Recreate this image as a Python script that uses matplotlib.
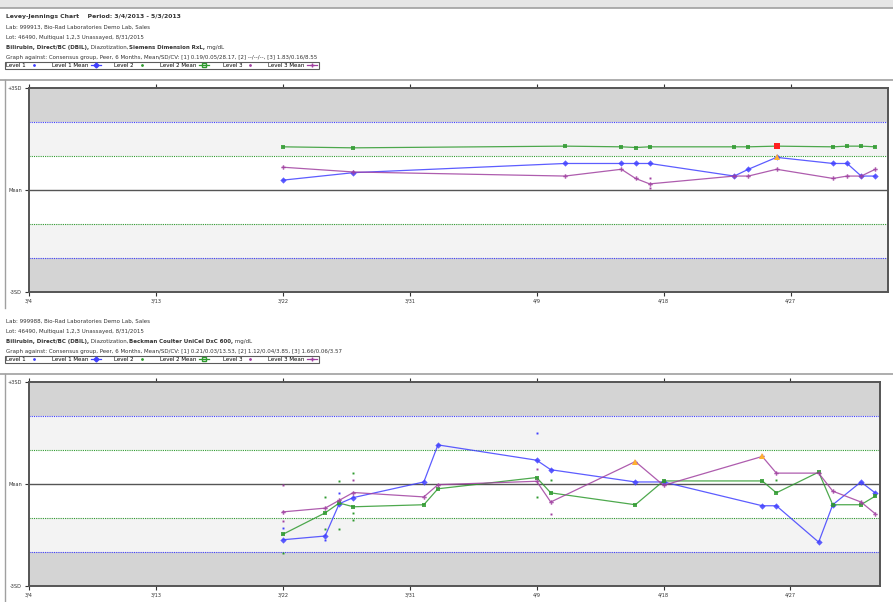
import matplotlib
matplotlib.use("Agg")
import matplotlib.pyplot as plt
from matplotlib.lines import Line2D
from matplotlib import font_manager

# days counted from 3/4/2013
tick_days = [0, 9, 18, 27, 36, 45, 54]
tick_labels = ['3/4', '3/13', '3/22', '3/31', '4/9', '4/18', '4/27']

# chart 1 (Siemens Dimension RxL), values in SD units
top_days = [18, 23, 38, 42, 43, 44, 50, 51, 53, 57, 58, 59, 60]
top_l1 = [0.29, 0.51, 0.78, 0.78, 0.78, 0.78, 0.41, 0.61, 0.96, 0.78, 0.78, 0.41, 0.41]
top_l2 = [1.27, 1.24, 1.29, 1.27, 1.25, 1.27, 1.27, 1.27, 1.29, 1.27, 1.29, 1.29, 1.27]
top_l3 = [0.67, 0.53, 0.41, 0.61, 0.34, 0.18, 0.41, 0.41, 0.61, 0.34, 0.41, 0.41, 0.61]
top_rep3_days = [44, 44]
top_rep3 = [0.34, 0.05]
top_warn = {'l1': [8], 'l2': [], 'l3': []}
top_rej = {'l1': [], 'l2': [8], 'l3': []}

# chart 2 (Beckman Coulter UniCel DxC 600)
bot_days = [18, 21, 22, 23, 28, 29, 36, 37, 43, 45, 52, 53, 56, 57, 59, 60]
bot_l1 = [-1.64, -1.53, -0.58, -0.40, 0.06, 1.15, 0.70, 0.42, 0.06, 0.06, -0.64, -0.64, -1.71, -0.61, 0.06, -0.26]
bot_l2 = [-1.48, -0.85, -0.56, -0.67, -0.61, -0.14, 0.19, -0.26, -0.61, 0.09, 0.09, -0.26, 0.35, -0.61, -0.61, -0.36]
bot_l3 = [-0.82, -0.71, -0.48, -0.25, -0.38, -0.02, 0.08, -0.53, 0.66, -0.04, 0.81, 0.32, 0.32, -0.21, -0.53, -0.87]
bot_rep1_days = [18, 21, 22, 36]
bot_rep1 = [-1.30, -1.66, -0.26, 1.50]
bot_rep2_days = [18, 21, 21, 22, 22, 23, 23, 23, 36, 37, 53]
bot_rep2 = [-2.03, -0.38, -1.31, 0.09, -1.31, 0.33, -0.86, -1.07, -0.38, 0.11, 0.11]
bot_rep3_days = [18, 18, 23, 36, 37]
bot_rep3 = [-0.04, -1.10, 0.13, 0.45, -0.89]
bot_warn = {'l1': [], 'l2': [], 'l3': [8, 10]}
bot_rej = {'l1': [], 'l2': [], 'l3': []}

BLUE = '#4040ff'
GREEN = '#2f9a2f'
PURPLE = '#a040a0'

names = {f.name for f in font_manager.fontManager.ttflist}
if 'Liberation Sans Narrow' in names:
    plt.rcParams['font.family'] = ['Liberation Sans Narrow', 'DejaVu Sans']
    FS = 5.0
else:
    plt.rcParams['font.family'] = ['DejaVu Sans']
    FS = 4.0

fig = plt.figure(figsize=(8.93, 6.02), dpi=100)
W, H = 893, 602


def px(x, y):
    return x / W, 1 - y / H


def rich_line(x, y, pieces, size=None):
    # draw text pieces of mixed weight one after another
    size = size or FS
    r = fig.canvas.get_renderer()
    cx = x
    for s, w in pieces:
        t = fig.text(*px(cx, y), s, fontsize=size, fontweight=w, color='#333333',
                     va='baseline', ha='left')
        cx += t.get_window_extent(renderer=r).width


def legend_box(y):
    h = [
        Line2D([], [], color=BLUE, marker='.', ls='none', ms=2),
        Line2D([], [], color=BLUE, marker='D', ms=2.5, lw=0.9),
        Line2D([], [], color=GREEN, marker='.', ls='none', ms=2),
        Line2D([], [], color=GREEN, marker='s', ms=2.5, lw=0.9, mfc='none'),
        Line2D([], [], color=PURPLE, marker='.', ls='none', ms=2),
        Line2D([], [], color=PURPLE, marker='+', ms=3, lw=0.9),
    ]
    labels = ['Level 1', 'Level 1 Mean', 'Level 2', 'Level 2 Mean', 'Level 3', 'Level 3 Mean']
    lg = fig.legend(h, labels, loc='upper left', bbox_to_anchor=px(5, y), ncol=6,
                    fontsize=FS, markerfirst=False, frameon=True, fancybox=False,
                    edgecolor='#333333', borderpad=0.2, handlelength=1.8,
                    handletextpad=0.5, columnspacing=2.4, borderaxespad=0)
    lg.get_frame().set_linewidth(0.8)


def chart(rect, xmax, days, l1, l2, l3, warn, rej, reps):
    ax = fig.add_axes(rect)
    ax.axhspan(2, 3, color='#d4d4d4', lw=0)
    ax.axhspan(-3, -2, color='#d4d4d4', lw=0)
    ax.axhspan(1, 2, color='#f3f3f3', lw=0)
    ax.axhspan(-2, -1, color='#f3f3f3', lw=0)
    for v in (2, -2):
        ax.axhline(v, color=BLUE, ls=(0, (1, 1)), lw=0.8)
    for v in (1, -1):
        ax.axhline(v, color=GREEN, ls=(0, (1, 1)), lw=0.8)
    ax.axhline(0, color='#555555', lw=1.0)

    for (rd, rv), c in reps:
        ax.plot(rd, rv, ls='none', marker='s', ms=1.4, color=c, mew=0)

    series = [('l1', l1, BLUE, 'D', 3.2), ('l2', l2, GREEN, 's', 3.2), ('l3', l3, PURPLE, 'P', 3.2)]
    for key, vals, c, m, ms in series:
        ax.plot(days, vals, color=c, lw=0.9, alpha=0.85, marker=m, ms=ms, mew=0)
        for i in warn[key]:
            ax.plot(days[i], vals[i], marker='^', ms=3.8, color='#ffb030', mew=0)
        for i in rej[key]:
            ax.plot(days[i], vals[i], marker='s', ms=3.8, color='#ff2020', mew=0)

    ax.set_xlim(0, xmax)
    ax.set_ylim(-3, 3)
    ax.set_yticks([3, 0, -3])
    ax.set_yticklabels(['+3SD', 'Mean', '-3SD'])
    ax.set_xticks(tick_days)
    ax.set_xticklabels(tick_labels)
    ax.tick_params(axis='both', labelsize=FS - 0.4, length=3, width=0.8,
                   colors='#333333', pad=2)
    ax.tick_params(axis='x', top=True, direction='out')
    for s in ax.spines.values():
        s.set_color('#555555')
        s.set_linewidth(1.4)
    return ax


# window decorations
fig.patches.append(plt.Rectangle((0, 1 - 8 / H), 1, 8 / H, transform=fig.transFigure,
                                 color='#e6e6e6', lw=0))
for yy in (8, 80, 374):
    fig.add_artist(Line2D([0, 1], [1 - yy / H, 1 - yy / H], color='#a0a0a0', lw=1.2))
fig.add_artist(Line2D([5 / W, 5 / W], [1 - 80 / H, 1 - 308 / H], color='#a0a0a0', lw=1))
fig.add_artist(Line2D([5 / W, 5 / W], [1 - 374 / H, 0], color='#a0a0a0', lw=1))

# header, chart 1
rich_line(6, 18, [('Levey-Jennings Chart    Period: 3/4/2013 - 5/3/2013', 'bold')], FS + 0.4)
rich_line(6, 29, [('Lab: 999913, Bio-Rad Laboratories Demo Lab, Sales', 'normal')])
rich_line(6, 39, [('Lot: 46490, Multiqual 1,2,3 Unassayed, 8/31/2015', 'normal')])
rich_line(6, 49, [('Bilirubin, Direct/BC (DBIL),', 'bold'), (' Diazotization,', 'normal'),
                  ('Siemens Dimension RxL,', 'bold'), (' mg/dL', 'normal')])
rich_line(6, 59, [('Graph against: Consensus group, Peer, 6 Months, Mean/SD/CV: [1] 0.19/0.05/28.17, '
                   '[2] --/--/--, [3] 1.83/0.16/8.55', 'normal')])
legend_box(62)

# header, chart 2
rich_line(6, 323, [('Lab: 999988, Bio-Rad Laboratories Demo Lab, Sales', 'normal')])
rich_line(6, 333, [('Lot: 46490, Multiqual 1,2,3 Unassayed, 8/31/2015', 'normal')])
rich_line(6, 343, [('Bilirubin, Direct/BC (DBIL),', 'bold'), (' Diazotization,', 'normal'),
                   ('Beckman Coulter UniCel DxC 600,', 'bold'), (' mg/dL', 'normal')])
rich_line(6, 353, [('Graph against: Consensus group, Peer, 6 Months, Mean/SD/CV: [1] 0.21/0.03/13.53, '
                    '[2] 1.12/0.04/3.85, [3] 1.66/0.06/3.57', 'normal')])
legend_box(356)

chart([29 / W, 1 - 292 / H, (888 - 29) / W, 204 / H], 60.9,
      top_days, top_l1, top_l2, top_l3, top_warn, top_rej,
      [((top_rep3_days, top_rep3), PURPLE)])
chart([29 / W, 1 - 586 / H, (880 - 29) / W, 204 / H], 60.35,
      bot_days, bot_l1, bot_l2, bot_l3, bot_warn, bot_rej,
      [((bot_rep1_days, bot_rep1), BLUE), ((bot_rep2_days, bot_rep2), GREEN),
       ((bot_rep3_days, bot_rep3), PURPLE)])

fig.savefig('out.png', dpi=100)
